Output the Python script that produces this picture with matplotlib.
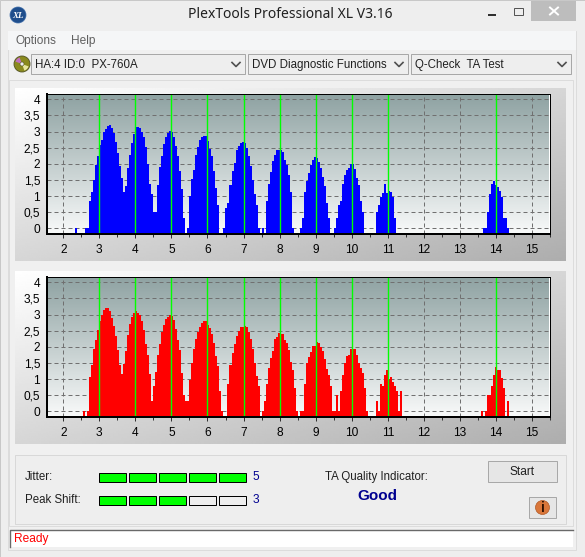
import numpy as np
import matplotlib
matplotlib.use('Agg')
import matplotlib.pyplot as plt
from matplotlib.patches import Rectangle, Circle, Wedge

nan = float('nan')

# bin heights, nan = no bar in that bin
jitter_vals = [0.0, nan, nan, nan, nan,
    0.0, 0.0, 0.85, 1.12, 1.50, 1.96, 2.24, 2.58, 2.74, 2.98, 3.08, 3.17, 3.20, 3.11, 2.95, 2.67, 2.33, 1.93, 1.56, 1.12,
    1.31, 1.87, 2.27, 2.65, 2.92, 3.14, 3.14, 3.10, 2.98, 2.83, 2.52, 1.99, 1.37, 1.06, 0.50, 0.50,
    1.34, 1.90, 2.24, 2.61, 2.83, 2.96, 3.02, 2.99, 2.83, 2.55, 2.24, 1.78, 1.22, 0.32, nan,
    0.0, 1.00, 1.53, 1.81, 2.27, 2.52, 2.74, 2.83, 2.86, 2.86, 2.71, 2.46, 2.24, 1.78, 1.25, 0.72, nan, nan,
    0.0, 0.63, 0.79, 1.34, 1.78, 2.03, 2.43, 2.55, 2.65, 2.68, 2.65, 2.49, 2.24, 1.93, 1.50, 1.06, 0.72, 0.0, nan, 0.0, nan,
    0.85, 1.37, 1.75, 2.09, 2.27, 2.43, 2.43, 2.43, 2.37, 2.12, 1.96, 1.65, 1.13, 0.0, nan, nan, nan,
    0.0, 0.32, 1.13, 1.47, 1.72, 1.96, 2.12, 2.21, 2.18, 2.06, 1.87, 1.59, 1.31, 0.79, 0.32, nan, nan,
    0.0, 0.32, 0.72, 0.85, 1.37, 1.65, 1.81, 1.87, 1.99, 1.99, 1.84, 1.56, 1.34, 0.85, 0.51,
    nan, nan, nan, nan, nan, nan,
    0.51, 0.72, 0.97, 1.10, 1.37, 1.10, 1.16, 1.13, 0.97, 0.32] + [nan] * 43 + [
    0.0, 0.0, 0.51, 1.06, 1.37, 1.47, 1.34, 1.28, 1.16, 0.97, 0.32, 0.32, 0.0]

peak_vals = [nan, nan, nan, nan, 0.0,
    nan, 0.0, 1.06, 1.44, 1.93, 2.21, 2.52, 2.80, 2.99, 3.14, 3.20, 3.20, 3.11, 2.89, 2.65, 2.34, 1.90, 1.44, 1.16, 1.47,
    1.87, 2.37, 2.71, 2.93, 3.05, 3.11, 3.05, 2.99, 2.80, 2.52, 2.09, 1.75, 1.16, 0.32, 0.79, 1.22,
    1.75, 2.09, 2.46, 2.68, 2.86, 2.93, 2.99, 2.96, 2.83, 2.55, 2.21, 1.90, 1.19, 0.51, 0.32,
    0.32, 0.97, 1.50, 1.93, 2.24, 2.46, 2.61, 2.74, 2.80, 2.80, 2.68, 2.58, 2.40, 2.12, 1.72, 1.41, 0.63, 0.0,
    nan, nan, 0.85, 1.44, 1.81, 2.09, 2.34, 2.49, 2.61, 2.61, 2.65, 2.61, 2.46, 2.24, 1.93, 1.49, 1.10, 0.79, nan, 0.0, 0.32,
    0.85, 1.34, 1.65, 1.87, 2.24, 2.30, 2.43, 2.40, 2.40, 2.21, 2.12, 1.90, 1.53, 1.28, 0.72, 0.0, nan,
    0.0, 0.0, 0.85, 1.50, 1.68, 1.84, 2.03, 2.03, 2.15, 2.12, 2.00, 1.87, 1.62, 1.31, 1.13, 0.79, 0.0,
    0.0, 0.51, 0.0, 0.63, 1.13, 1.50, 1.72, 1.75, 1.93, 1.93, 1.93, 1.75, 1.50, 1.35, 1.19, 0.72, 0.0,
    nan, nan, nan, nan,
    0.32, 0.0, 0.85, 0.79, 1.13, 1.28, 1.00, 1.07, 0.91, 0.79, 0.63, 0.0, 0.63] + [nan] * 39 + [
    0.0, nan, 0.0, 0.51, 0.51, 0.79, 1.13, 1.38, 1.28, 1.28, 1.03, 0.72, nan, 0.32]

x_ticks = list(range(2, 16))
y_ticks = [0, 0.5, 1, 1.5, 2, 2.5, 3, 3.5, 4]
y_labels = ['0', '0,5', '1', '1,5', '2', '2,5', '3', '3,5', '4']
green_lines = [3, 4, 5, 6, 7, 8, 9, 10, 11, 14]
jitter_level = 5
peak_level = 3

W, H = 585, 557
X0 = 2.318
STEP = 0.05575
Y_MIN, Y_MAX = -0.177, 4.163
PX = 0.72  # one pixel in points

UI_FONT = 'Liberation Sans'
plt.rcParams['font.family'] = ['Noto Sans', 'DejaVu Sans']
fig = plt.figure(figsize=(W / 100, H / 100), dpi=100, facecolor='#f0f0f0')

# window chrome, pixel coordinates
bg = fig.add_axes([0, 0, 1, 1], zorder=0)
bg.set_xlim(0, W)
bg.set_ylim(H, 0)
bg.axis('off')


def box(x0, y0, x1, y1, fc, ec='none', lw=0.0, z=1):
    bg.add_patch(Rectangle((x0, y0), x1 - x0, y1 - y0, fc=fc, ec=ec, lw=lw, zorder=z))


def label(x, y, s, size=8.6, color='#202020', ha='left', weight='normal', z=3):
    bg.text(x, y, s, fontsize=size, color=color, ha=ha, va='center', family=UI_FONT, weight=weight, zorder=z)


def chevron(x, y):
    bg.plot([x - 4, x, x + 4], [y - 2, y + 2, y - 2], color='#505050', lw=1.2, zorder=3)


def gradient(x0, y0, x1, y1):
    # light top left corner, grey bottom right corner
    xx, yy = np.meshgrid(np.linspace(0, 1, 200), np.linspace(0, 1, 100))
    g = np.clip(0.5 * xx + 0.5 * yy, 0, 1)
    bg.imshow(1.0 - 0.32 * g, extent=(x0, x1, y1, y0), cmap='gray', vmin=0, vmax=1,
              aspect='auto', zorder=1, interpolation='bilinear')


box(0, 0, W, H, '#eeeeee', ec='#c8c8c8', lw=PX)
box(8, 31, 576, 550, '#f0f0f0', ec='#dcdcdc', lw=PX)
box(8, 31, 576, 50, '#f5f6f7')
box(9, 80, 573, 526, '#f0f0f0', ec='#dcdcdc', lw=PX)

# title bar
bg.add_patch(Circle((18, 15), 8, fc='#1f4e8c', ec='#3a6aa8', lw=0.5, zorder=2))
bg.text(18, 15.5, 'XL', color='white', fontsize=6.5, family='Liberation Serif', style='italic',
        weight='bold', ha='center', va='center', zorder=3)
bg.text(290.5, 15, 'PlexTools Professional XL V3.16', fontsize=10, color='#202020', ha='center', va='center')
box(488, 14, 496, 16, '#303030')
box(513.5, 8, 522.5, 15, 'none', ec='#555555', lw=PX)
box(531, 1, 576, 21, '#bdbdbd')
bg.plot([550, 558], [7.5, 14.5], color='white', lw=1.4, zorder=3)
bg.plot([550, 558], [14.5, 7.5], color='white', lw=1.4, zorder=3)

# menu
label(15, 41, 'Options', color='#606060')
label(71, 41, 'Help', color='#606060')

# drive icon and combo boxes
bg.add_patch(Circle((22, 64), 8, fc='#8a8a1e', ec='#505020', lw=0.6, zorder=2))
bg.add_patch(Wedge((22, 64), 7, 20, 70, fc='#e8e8a0', zorder=3))
bg.add_patch(Wedge((22, 64), 7, 200, 250, fc='#c070c0', zorder=3))
bg.add_patch(Circle((22, 64), 2, fc='#f0f0f0', ec='#505020', lw=0.4, zorder=4))
for x0, x1, combo_text in [(31, 245, 'HA:4 ID:0  PX-760A'), (248, 408, 'DVD Diagnostic Functions'),
                           (411, 571, 'Q-Check  TA Test')]:
    box(x0, 54, x1, 74, '#eeeeee', ec='#a8a8a8', lw=PX)
    label(x0 + 4, 65, combo_text, size=8.3)
    chevron(x1 - 9, 64.5)

# panels behind the plots
gradient(15, 88, 566, 261)
gradient(15, 271, 566, 444)
bg.set_xlim(0, W)
bg.set_ylim(H, 0)

# test result panel
box(15, 455, 566, 524, '#eeeeee', ec='#d8d8d8', lw=PX)
label(25, 477, 'Jitter:', size=8.3)
label(25, 500, 'Peak Shift:', size=8.3)
for y0, level in [(472, jitter_level), (495, peak_level)]:
    for i in range(5):
        fc = '#00ff00' if i < level else '#eeeeee'
        box(98.5 + 30 * i, y0 + 0.5, 125.5 + 30 * i, y0 + 9.5, fc, ec='black', lw=PX)
    label(256, y0 + 5, str(level), color='#000090', ha='center')
label(376, 477, 'TA Quality Indicator:', size=8.3, ha='center')
label(377, 496.5, 'Good', size=11, weight='bold', color='#000090', ha='center')
box(488, 461, 557, 482, '#e6e6e6', ec='#a8a8a8', lw=PX)
label(522, 472, 'Start', ha='center')
box(529, 497, 556, 518, '#e6e6e6', ec='#a8a8a8', lw=PX)
bg.add_patch(Circle((542.5, 507.5), 7, fc='#d9763a', ec='#b05a28', lw=0.5, zorder=3))
label(542.5, 507.5, 'i', size=10, weight='bold', color='#301000', ha='center', z=4)

# status bar
box(10, 530, 573, 547, 'white')
bg.plot([10, 10, 573], [547, 530, 530], color='#696969', lw=1.0, zorder=2)
label(14, 539, 'Ready', color='#ff0000')


def draw_plot(top, bottom, vals, color):
    ax = fig.add_axes([47 / W, 1 - bottom / H, 503 / W, (bottom - top) / H], zorder=2)
    x_left = 2 - (63.3 - 47) / 36.154
    x_right = 15 + (550 - 533.3) / 36.154

    # backdrop fades from grey green to white
    shade = np.linspace(0, 1, 256).reshape(-1, 1)
    rgb = np.zeros((256, 1, 3))
    rgb[:, :, 0] = 0.557 + (0.975 - 0.557) * shade
    rgb[:, :, 1] = 0.635 + (0.98 - 0.635) * shade
    rgb[:, :, 2] = 0.635 + (0.98 - 0.635) * shade
    ax.imshow(rgb, extent=(x_left, x_right, Y_MIN, Y_MAX), aspect='auto', zorder=0)

    ax.yaxis.grid(True, color='#707070', ls=(0, (4, 3)), lw=PX)
    ax.xaxis.grid(True, color='#707070', ls=(0, (4, 3)), lw=PX)

    vals = np.array(vals)
    xs = X0 + STEP * np.arange(len(vals))
    ax.bar(xs, vals - Y_MIN, width=STEP, bottom=Y_MIN, align='edge', color=color,
           linewidth=0, antialiased=False, zorder=2)

    # a bit over one pixel, exactly one pixel lost some of the lines
    for gx in green_lines:
        ax.axvline(gx, color='#00ff00', lw=1.0, zorder=3)

    ax.set_xlim(x_left, x_right)
    ax.set_ylim(Y_MIN, Y_MAX)
    ax.set_xticks(x_ticks)
    ax.set_xticks(np.arange(1.5, 15.6, 0.5)[1:], minor=True)
    ax.set_yticks(y_ticks, y_labels)
    ax.tick_params(axis='x', which='major', length=3, width=PX, color='#303030', pad=4)
    ax.tick_params(axis='x', which='minor', length=2, width=PX, color='#303030')
    ax.tick_params(axis='y', length=0, pad=5)
    for t in ax.get_xticklabels() + ax.get_yticklabels():
        t.set_family(UI_FONT)
        t.set_fontsize(8.6)
    for name, spine in ax.spines.items():
        spine.set_color('black')
        spine.set_linewidth(2 * PX if name in ('left', 'bottom') else PX)
        spine.set_zorder(4)
    return ax


draw_plot(94, 234, jitter_vals, '#0000ff')
draw_plot(277, 417, peak_vals, '#ff0000')

fig.savefig('out.png', dpi=100, facecolor=fig.get_facecolor())
